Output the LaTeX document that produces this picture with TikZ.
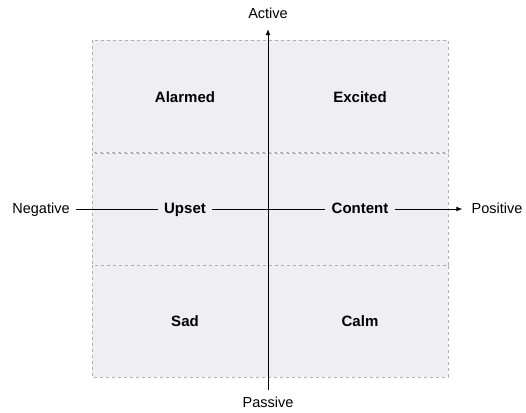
\documentclass[tikz,border=0pt]{standalone}
\usepackage{fontspec}
\setmainfont{Liberation Sans}
\usetikzlibrary{arrows.meta}
\definecolor{cellfill}{HTML}{EFEFF1}
\definecolor{gridline}{HTML}{B0B0B0}
\begin{document}
\begin{tikzpicture}[x=1pt,y=-1pt,
  cell/.style={fill=cellfill,draw=gridline,dashed,dash pattern=on 3pt off 3pt,line width=0.7pt},
  mood/.style={font=\fontsize{15}{17}\selectfont\bfseries,inner sep=1pt,text height=11pt,text depth=3pt},
  axislabel/.style={font=\fontsize{14.5}{17}\selectfont,inner sep=1pt,text height=11pt,text depth=3pt},
  axis/.style={line width=1pt,draw=black},
  gap/.style={shorten <=5pt,shorten >=5pt}]
\useasboundingbox (0,0) rectangle (526,412);
% quadrant cells
\foreach \y in {40,153,265}
  \draw[cell] (92,\y) rectangle (448,\y+112);
% emotion labels
\node[mood] (alarmed) at (185,98) {Alarmed};
\node[mood] (excited) at (360,98) {Excited};
\node[mood] (upset) at (185,209) {Upset};
\node[mood] (content) at (360,209) {Content};
\node[mood] (sad) at (185,322) {Sad};
\node[mood] (calm) at (360,322) {Calm};
% axis end labels
\node[axislabel] (negative) at (41,209) {Negative};
\node[axislabel] (positive) at (497,209) {Positive};
\node[axislabel] (active) at (268,15) {Active};
\node[axislabel] (passive) at (268,403) {Passive};
% horizontal axis, broken by the labels on it
\draw[axis,gap] (negative.east) -- (upset.west);
\draw[axis,gap] (upset.east) -- (content.west);
\draw[axis,shorten <=5pt,shorten >=8pt,-{Latex[length=6pt,width=5pt]}] (content.east) -- (positive.west);
% vertical axis
\draw[axis,shorten <=5pt,shorten >=6pt,-{Latex[length=6pt,width=5pt]}] (passive.north) -- (active.south);
\end{tikzpicture}
\end{document}
